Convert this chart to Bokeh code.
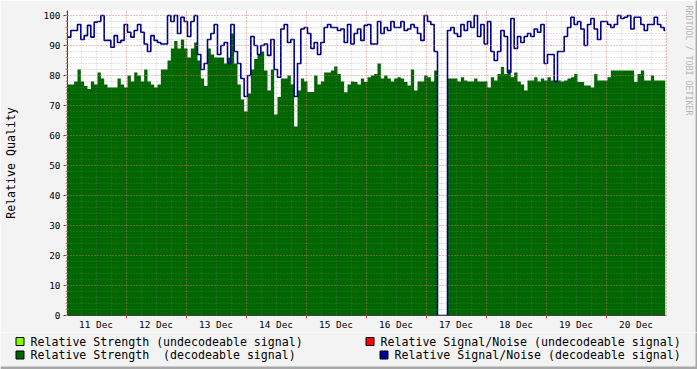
import numpy as np
from bokeh.plotting import figure
from bokeh.layouts import column, row
from bokeh.models import FixedTicker, Grid, Range1d, LinearAxis, Title
from bokeh.core.properties import value
from bokeh.embed import file_html
from bokeh.resources import INLINE

# ---------------- data ----------------
day_labels = ["11 Dec", "12 Dec", "13 Dec", "14 Dec", "15 Dec",
              "16 Dec", "17 Dec", "18 Dec", "19 Dec", "20 Dec"]

# Relative Strength (decodeable signal), one value per 80-minute step
strength = [
    77, 77, 78, 82, 78, 76.5, 75.5, 78, 77, 81,
    79, 77, 76, 76, 76, 79, 77, 76, 80, 78,
    81, 80, 78, 82, 78, 77, 76, 77, 82,
    82, 85, 89, 91.5, 89, 92, 89, 86, 89, 91,
    85, 79, 76.5, 89, 87, 86, 86, 86, 84, 86,
    94, 84, 77, 72, 68, 74, 82, 85.5, 87, 88,
    81.7, 75, 82, 67, 72.8, 79, 79, 80, 77, 63,
    75, 79, 78, 74.5, 74.5, 80, 77, 78, 81, 81,
    81.7, 83, 80.5, 78, 74.4, 77, 78, 77.8, 77, 79,
    77.8, 79.4, 80, 80.5, 84, 79, 80, 79, 78, 79,
    79.4, 79, 77.8, 76.7, 82, 75, 78, 78, 80, 79.4,
    78, 81.7, 0, 0, 0, 79, 79, 79, 78, 79.4,
    78.3, 78, 78, 79, 78, 78, 78, 76, 79.4, 78.3,
    80.5, 82.8, 80.5, 82, 79.4, 81, 78, 77, 75, 78.3,
    78.3, 79.4, 78, 79, 78.3, 79.4, 78.3, 78.3, 78.3, 78,
    78.3, 79, 79.4, 80.5, 77.8, 77.8, 76.7, 76.7, 76, 80.5,
    78.3, 78.3, 78.3, 79.4, 81.7, 81.7, 81.7, 81.7, 81.7, 81.7,
    81.7, 77.8, 80.5, 81.7, 78.3, 78.3, 80, 78.3, 78.3, 78.3, 78.3,
]

# Relative Signal/Noise (decodeable signal)
snr = [
    92.8, 95, 95, 97, 92, 93.3, 96.7, 92.8, 97.8, 98,
    100, 91.7, 91.7, 89.4, 93.3, 91, 91.7, 97, 94.4, 92.8,
    95, 97, 94.4, 90.5, 88, 93.3, 91.7, 91, 90.5,
    90.5, 100, 98, 100, 94, 99.4, 98, 93, 98, 100,
    87, 82, 84, 92, 94, 97, 87, 90, 91, 84,
    97, 88, 84, 79, 73, 80, 93, 90, 87, 90,
    90.5, 86.7, 92, 82, 79.4, 95.5, 97, 91, 92, 73,
    84, 95.5, 96, 94, 89, 91, 87, 91, 96, 97,
    96, 96, 95, 95.5, 91, 97, 90.5, 94, 95.5, 91.7,
    96.7, 97, 90.5, 90.5, 98, 94, 96, 95, 98, 96,
    96, 98, 95, 95.5, 97, 96, 94, 91.7, 100, 98,
    97, 88, 0, 0, 0, 95, 96, 94, 93, 97,
    95, 98, 96, 100, 93, 97, 90.5, 98, 88, 85,
    88, 95, 93, 81, 99, 89, 93, 91, 93, 94,
    93, 95.5, 94.4, 97, 84, 87, 87, 78, 88, 88,
    93, 96, 99.4, 97, 98, 95.5, 90, 97, 99, 95.5,
    92, 98, 98, 97, 96, 97, 100, 99, 99.4, 100,
    95.5, 99.4, 99.4, 97, 95, 97, 97, 99.4, 97, 96, 95,
]

legend_texts = [
    "Relative Strength (undecodeable signal)",
    "Relative Strength \u00a0(decodeable signal)",
    "Relative Signal/Noise (undecodeable signal)",
    "Relative Signal/Noise (decodeable signal)",
]
legend_colors = ["#80FF00", "#006600", "#FF0000", "#000099"]
legend_col = [0, 0, 1, 1]
legend_row = [0, 1, 0, 1]

# time axis: hours after 11 Dec 00:00
T_START = 0.6
T_END = 239.8
STEP_H = 4.0 / 3.0

n = len(strength)
t = np.append(T_START + STEP_H * np.arange(n), T_END)
strength_ext = strength + [strength[-1]]
snr_ext = snr + [snr[-1]]

MONO = "DejaVu Sans Mono"
BG = "#F3F3F3"
SHADE = "#A8A8A8"

W = 697
EDGE = 2
MAIN_H = 332
LEG_H = 369 - MAIN_H
TOP = 10            # top of the white canvas (value 100 sits at y=15)
Y_TOP = 100 + (15 - TOP) / 3.0

fig = figure(width=W - EDGE, height=MAIN_H, output_backend="svg", toolbar_location=None,
             x_range=Range1d(T_START, T_END), y_range=Range1d(0, Y_TOP),
             min_border_left=67, min_border_right=W - EDGE - 665, min_border_top=TOP,
             min_border_bottom=MAIN_H - 315,
             background_fill_color="white", border_fill_color=BG,
             outline_line_color=None)
fig.frame_align = False

fig.varea_step(x=t, y1=np.zeros(n + 1), y2=strength_ext, step_mode="after",
               fill_color="#006600")
fig.step(t, snr_ext, mode="after", line_color="#00008A", line_width=1.6)

# grids (drawn on top, rrdtool style)
fig.xgrid.visible = False
fig.ygrid.visible = False
midnights = [24 * k for k in range(0, 11)]
six_hours = [6 * k for k in range(0, 41)]
noons = [12 + 24 * k for k in range(len(day_labels))]

xg = Grid(dimension=0, ticker=FixedTicker(ticks=midnights, minor_ticks=six_hours),
          grid_line_color="#F07070", grid_line_alpha=0.6, grid_line_dash="1 2",
          minor_grid_line_color="#808080", minor_grid_line_alpha=0.45,
          minor_grid_line_dash="1 2", level="overlay")
yg = Grid(dimension=1, ticker=FixedTicker(ticks=list(range(0, 101, 10)),
                                          minor_ticks=list(range(0, 101, 2))),
          grid_line_color="#F07070", grid_line_alpha=0.6, grid_line_dash="1 2",
          minor_grid_line_color="#808080", minor_grid_line_alpha=0.45,
          minor_grid_line_dash="1 2", level="overlay")
fig.add_layout(xg)
fig.add_layout(yg)

# x axis
xa = fig.xaxis[0]
xa.ticker = FixedTicker(ticks=noons, minor_ticks=midnights)
xa.major_label_overrides = {pos: lab for pos, lab in zip(noons, day_labels)}
xa.major_tick_line_color = None
xa.major_tick_out = 0
xa.major_tick_in = 0
xa.minor_tick_line_color = "#C04040"
xa.minor_tick_out = 3
xa.minor_tick_in = 0
xa.axis_line_color = "#404040"
xa.major_label_standoff = 0
xa.major_label_text_font = MONO
xa.major_label_text_font_size = "9.4px"
xa.major_label_text_color = "#000000"

# y axis
ya = fig.yaxis[0]
ya.ticker = FixedTicker(ticks=list(range(0, 101, 10)), minor_ticks=list(range(0, 101, 2)))
ya.major_tick_out = 4
ya.major_tick_in = 0
ya.major_tick_line_color = "#404040"
ya.minor_tick_out = 2
ya.minor_tick_in = 0
ya.minor_tick_line_color = "#A0A0A0"
ya.axis_line_color = "#404040"
ya.major_label_standoff = 3
ya.major_label_text_font = MONO
ya.major_label_text_font_size = "9.4px"
ya.major_label_text_color = "#000000"
ya.axis_label = "Relative Quality"
ya.axis_label_text_font = MONO
ya.axis_label_text_font_size = "11.6px"
ya.axis_label_text_font_style = "normal"
ya.axis_label_text_color = "#000000"
ya.axis_label_standoff = 23

# watermark on the right: an invisible spacer axis, then a vertical title
spacer = LinearAxis(ticker=FixedTicker(ticks=[50]), axis_line_color=None,
                    major_tick_line_color=BG, minor_tick_line_color=None,
                    major_tick_out=17, major_tick_in=0, minor_tick_out=0,
                    minor_tick_in=0, major_label_standoff=0,
                    major_label_overrides={50: ""})
fig.add_layout(spacer, "right")
wm = Title(text="RRDTOOL / TOBI OETIKER", align="left", vertical_align="middle",
           offset=-10 + (15 - TOP), standoff=0, text_font=MONO,
           text_font_size="8.3px", text_font_style="normal", text_color="#B4B4B4")
fig.add_layout(wm, "right")

# right shading edge of the image frame
edge = figure(width=EDGE, height=MAIN_H, output_backend="svg", toolbar_location=None,
              x_axis_location=None, y_axis_location=None,
              min_border_left=0, min_border_right=0, min_border_top=0,
              min_border_bottom=0, background_fill_color=SHADE,
              border_fill_color=SHADE, outline_line_color=None)
edge.frame_align = False
edge.grid.visible = False

# ---------------- legend strip (rrdtool style, two columns) ----------------
leg = figure(width=W, height=LEG_H, output_backend="svg", toolbar_location=None,
             x_range=Range1d(0, W), y_range=Range1d(LEG_H, 0),
             x_axis_location=None, y_axis_location=None,
             min_border_left=0, min_border_right=0, min_border_top=0,
             min_border_bottom=0, background_fill_color=BG,
             border_fill_color=BG, outline_line_color=None)
leg.frame_align = False
leg.grid.visible = False

# shading of the image frame (bottom and right edges)
leg.quad(left=[0, W - EDGE], right=[W, W], top=[LEG_H - 3, 0], bottom=[LEG_H, LEG_H],
         fill_color=SHADE, line_color=None)

col_box_x = [[15.5, 15.5], [365.5, 379.5]]
row_center = [9.0, 22.5]
box_left = [col_box_x[c][r] for c, r in zip(legend_col, legend_row)]
box_mid = [row_center[r] for r in legend_row]
leg.quad(left=box_left, right=[b + 8 for b in box_left],
         top=[m - 4 for m in box_mid], bottom=[m + 4 for m in box_mid],
         fill_color=legend_colors, line_color="black", line_width=1)
leg.text(x=[b + 14.5 for b in box_left], y=box_mid, text=legend_texts,
         text_font=value(MONO), text_font_size="11.6px", text_color="#000000",
         text_align="left", text_baseline="middle")

p = column(row(fig, edge, spacing=0), leg, spacing=0)

open("out.html", "w").write(file_html(p, INLINE))
